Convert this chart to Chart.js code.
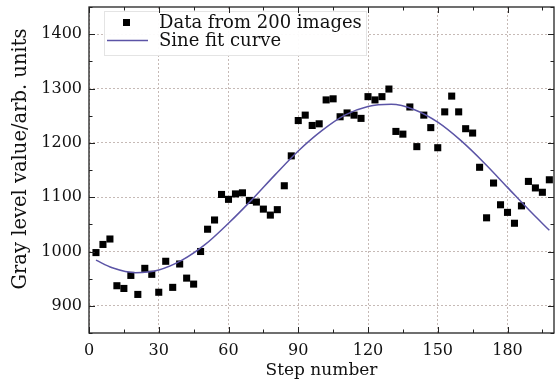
<!DOCTYPE html>
<html>
<head>
<meta charset="utf-8">
<script src="https://cdn.jsdelivr.net/npm/chart.js@4.4.0/dist/chart.umd.min.js"></script>
<style>
  html, body { margin: 0; padding: 0; background: #fff; }
  #wrap { width: 560px; height: 385px; }
</style>
</head>
<body>
<div id="wrap"><canvas id="chart" width="560" height="385"></canvas></div>
<script>
// Measured points (one per step)
const stepNumber = [3, 6, 9, 12, 15, 18, 21, 24, 27, 30, 33, 36, 39, 42, 45, 48, 51, 54, 57, 60,
  63, 66, 69, 72, 75, 78, 81, 84, 87, 90, 93, 96, 99, 102, 105, 108, 111, 114, 117, 120,
  123, 126, 129, 132, 135, 138, 141, 144, 147, 150, 153, 156, 159, 162, 165, 168, 171, 174, 177, 180,
  183, 186, 189, 192, 195, 198];
const grayLevel = [998, 1013, 1023, 937, 932, 956, 921, 969, 958, 925, 982, 934, 977, 951, 940, 1000, 1041, 1058, 1105, 1096,
  1106, 1108, 1094, 1091, 1078, 1067, 1077, 1121, 1176, 1241, 1251, 1232, 1235, 1279, 1281, 1248, 1255, 1251, 1245, 1285,
  1279, 1285, 1299, 1221, 1216, 1266, 1193, 1251, 1228, 1191, 1257, 1286, 1257, 1226, 1218, 1155, 1062, 1126, 1086, 1072,
  1052, 1084, 1129, 1117, 1109, 1132];

// Sine fit curve
const fitStep = [3, 10, 20, 30, 40, 50, 60, 70, 80, 90, 100, 110, 120, 130, 140, 150, 160, 170, 180, 190, 198];
const fitValue = [984, 970, 961, 966, 984, 1013, 1052, 1095, 1141, 1185, 1222, 1251, 1267, 1271, 1261, 1238, 1204, 1163, 1118, 1073, 1039];

const xTicks = [0, 30, 60, 90, 120, 150, 180];
const yTicks = [900, 1000, 1100, 1200, 1300, 1400];
const legendLabels = ["Data from 200 images", "Sine fit curve"];
const yTitle = "Gray level value/arb. units";

const FONT = "DejaVu Serif";
const INK = "#111";
const LINE_COLOR = "#5b54a6";
const GRID = "#c6bab6";

// frame round the plot plus inward major/minor ticks on all four sides
const frameTicks = {
  id: "frameTicks",
  afterDraw(chart) {
    const { ctx, chartArea: a, scales: { x, y } } = chart;
    ctx.save();
    ctx.strokeStyle = "#222";
    ctx.lineWidth = 1.3;
    ctx.strokeRect(a.left, a.top, a.right - a.left, a.bottom - a.top);
    ctx.lineWidth = 1;
    ctx.beginPath();
    for (let v = 0; v <= 200; v += 15) {
      const px = Math.round(x.getPixelForValue(v)) + 0.5;
      const len = v % 30 === 0 ? 6 : 3.5;
      ctx.moveTo(px, a.bottom); ctx.lineTo(px, a.bottom - len);
      ctx.moveTo(px, a.top); ctx.lineTo(px, a.top + len);
    }
    for (let v = 850; v <= 1450; v += 50) {
      const py = Math.round(y.getPixelForValue(v)) + 0.5;
      const len = v % 100 === 0 ? 6 : 3.5;
      ctx.moveTo(a.left, py); ctx.lineTo(a.left + len, py);
      ctx.moveTo(a.right, py); ctx.lineTo(a.right - len, py);
    }
    ctx.stroke();

    // y title sits a little above the middle of the axis in the original
    ctx.translate(21, (a.top + a.bottom) / 2 - 11);
    ctx.rotate(-Math.PI / 2);
    ctx.fillStyle = INK;
    ctx.font = "19.5px '" + FONT + "'";
    ctx.textAlign = "center";
    ctx.textBaseline = "middle";
    ctx.fillText(yTitle, 0, 0);
    ctx.restore();
  }
};

// legend box inside the plot, top-left
const insideLegend = {
  id: "insideLegend",
  afterDatasetsDraw(chart) {
    const { ctx, chartArea: a } = chart;
    const bx = a.left + 15, by = a.top + 4;
    ctx.save();
    ctx.fillStyle = "rgba(255,255,255,0.94)";
    ctx.strokeStyle = "#e4e4e4";
    ctx.lineWidth = 1;
    ctx.fillRect(bx, by, 262, 44);
    ctx.strokeRect(bx + 0.5, by + 0.5, 262, 44);

    ctx.fillStyle = "#000";
    ctx.fillRect(bx + 19, by + 8, 7, 7);
    ctx.strokeStyle = LINE_COLOR;
    ctx.lineWidth = 1.5;
    ctx.beginPath();
    ctx.moveTo(bx + 3, by + 29.5);
    ctx.lineTo(bx + 44, by + 29.5);
    ctx.stroke();

    ctx.fillStyle = INK;
    ctx.font = "18px '" + FONT + "'";
    ctx.textBaseline = "middle";
    ctx.fillText(legendLabels[0], bx + 55, by + 12);
    ctx.fillText(legendLabels[1], bx + 55, by + 30);
    ctx.restore();
  }
};

const ctx = document.getElementById("chart").getContext("2d");
new Chart(ctx, {
  type: "scatter",
  data: {
    datasets: [
      {
        label: legendLabels[0],
        data: stepNumber.map((s, i) => ({ x: s, y: grayLevel[i] })),
        pointStyle: "rect",
        pointRadius: 5,
        pointHoverRadius: 5,
        backgroundColor: "#000",
        borderWidth: 0,
        order: 2,
      },
      {
        type: "line",
        label: legendLabels[1],
        data: fitStep.map((s, i) => ({ x: s, y: fitValue[i] })),
        borderColor: LINE_COLOR,
        borderWidth: 1.5,
        pointRadius: 0,
        tension: 0.4,
        cubicInterpolationMode: "monotone",
        fill: false,
        order: 1,
      },
    ],
  },
  options: {
    responsive: false,
    animation: false,
    devicePixelRatio: 1,
    layout: { padding: { left: 0, right: 6, top: 7, bottom: 2 } },
    plugins: {
      legend: { display: false },
      tooltip: { enabled: false },
    },
    scales: {
      x: {
        type: "linear",
        min: 0,
        max: 200,
        afterBuildTicks: (s) => { s.ticks = xTicks.map((v) => ({ value: v })); },
        afterFit: (s) => { s.height = 50; s.paddingLeft = 0; s.paddingRight = 0; },
        ticks: {
          color: INK,
          font: { family: FONT, size: 16 },
          padding: 8,
          maxRotation: 0,
          autoSkip: false,
          callback: (v) => String(v),
        },
        grid: { color: GRID, lineWidth: 1, drawTicks: false },
        border: { display: false, dash: [2, 2] },
        title: {
          display: true,
          text: "Step number",
          color: INK,
          font: { family: FONT, size: 17 },
          padding: { top: 0, bottom: 2 },
        },
      },
      y: {
        type: "linear",
        min: 850,
        max: 1450,
        afterBuildTicks: (s) => { s.ticks = yTicks.map((v) => ({ value: v })); },
        afterFit: (s) => { s.width = 89; s.paddingTop = 0; s.paddingBottom = 0; },
        ticks: {
          color: INK,
          font: { family: FONT, size: 16 },
          padding: 7,
          callback: (v) => String(v),
        },
        grid: { color: GRID, lineWidth: 1, drawTicks: false },
        border: { display: false, dash: [2, 2] },
        title: { display: false },
      },
    },
  },
  plugins: [insideLegend, frameTicks],
});
</script>
</body>
</html>
